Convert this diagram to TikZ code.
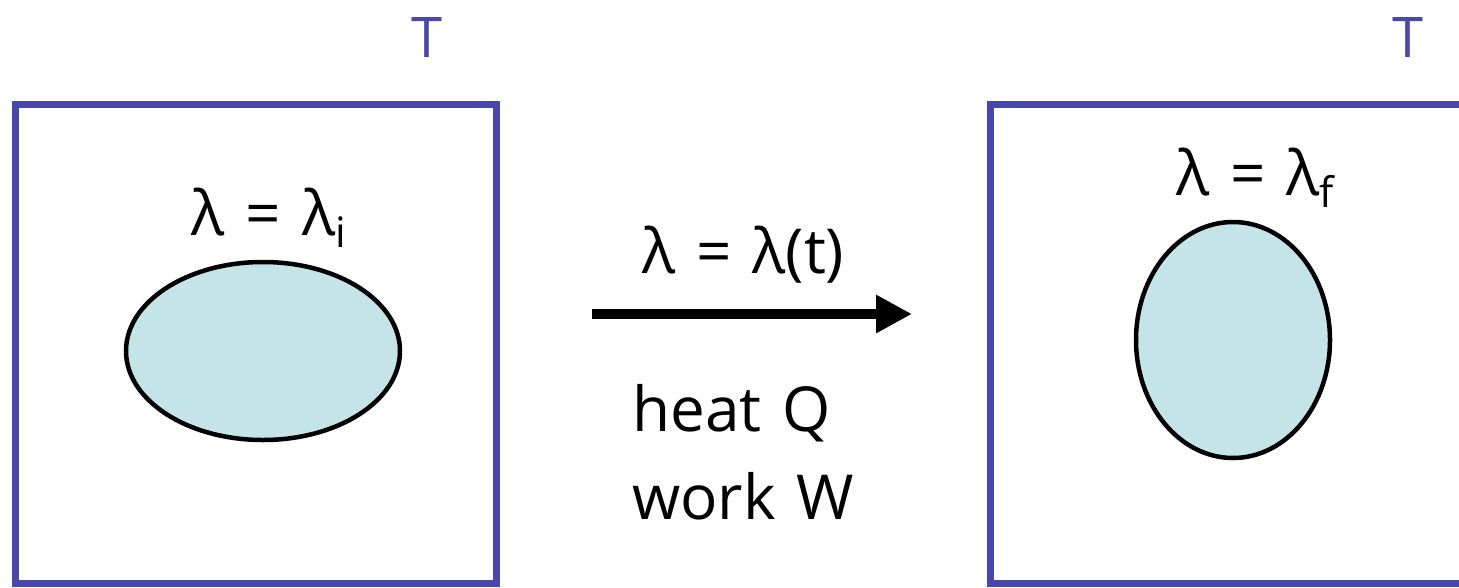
\documentclass[tikz,border=0pt]{standalone}
\usepackage{fontspec}
\setmainfont{Open Sans}[WordSpace=1.3]
\usepackage{tikz}
\usetikzlibrary{shapes.geometric,arrows.meta,positioning}
\usepackage{xcolor}
\definecolor{bathblue}{RGB}{72,72,170}
\definecolor{blobfill}{RGB}{196,228,232}
\newcommand{\lowsub}[1]{\raisebox{-12pt}{\fontsize{42}{44}\selectfont #1}}
\tikzset{
bathbox/.style={draw=bathblue,line width=7pt},
bathtemp/.style={text=bathblue,inner sep=0pt,font=\fontsize{56}{60}\selectfont},
blob/.style={ellipse,draw=black,line width=4.5pt,fill=blobfill,inner sep=0pt},
paramlabel/.style={inner sep=0pt,font=\fontsize{62}{88}\selectfont},
procarr/.style={line width=10pt,-{Triangle[length=36pt,width=36pt]}}
}
\begin{document}
\begin{tikzpicture}[x=1pt,y=-1pt,node distance=12pt]
\clip (0,0) rectangle (1459,587);
% heat baths
\draw[bathbox] (15,104) rectangle (496,583);
\draw[bathbox] (990,104) rectangle (1520,583);
\node[bathtemp] (ti) at (427,38) {T};
\node[bathtemp] (tf) at (1408,38) {T};
% system before and after
\node[blob,minimum width=274pt,minimum height=178pt] (blobi) at (263,351) {};
\node[blob,minimum width=194pt,minimum height=236pt] (blobf) at (1233,340) {};
\node[paramlabel,above=of blobi,xshift=6pt] (labi) {λ = λ\lowsub{i}};
\node[paramlabel,above=of blobf,xshift=22pt] (labf) {λ = λ\lowsub{f}};
% protocol
\coordinate (arrs) at (592,314);
\coordinate (arre) at (912,314);
\draw[procarr] (arrs) -- (arre);
\node[paramlabel,above=30pt of arrs,anchor=south west,xshift=50pt] (prot) {λ = λ(t)};
\node[paramlabel,below=70pt of arrs,anchor=north west,xshift=40pt,align=left] (exch) {heat Q\\work W};
\end{tikzpicture}
\end{document}
